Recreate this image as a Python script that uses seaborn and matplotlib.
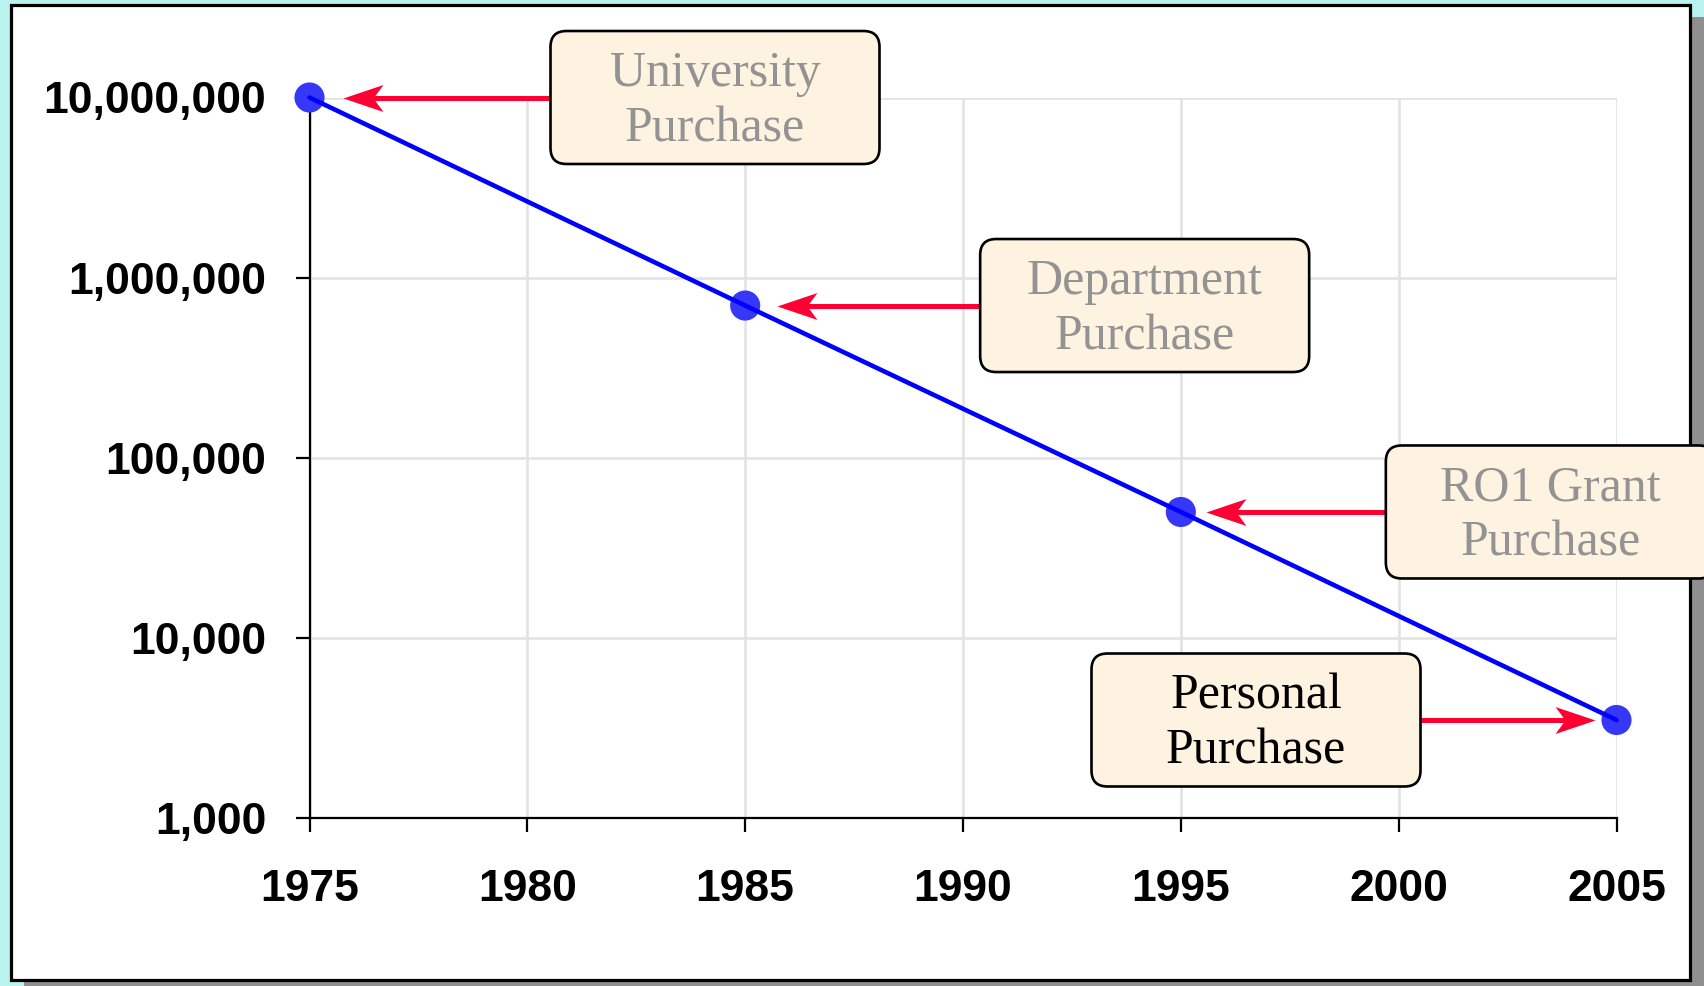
import matplotlib
matplotlib.use("Agg")
import matplotlib.pyplot as plt
import seaborn as sns
import numpy as np
import pandas as pd
from matplotlib.patches import FancyBboxPatch, Rectangle
from matplotlib.path import Path
from matplotlib.lines import Line2D
from matplotlib.transforms import IdentityTransform
from matplotlib.ticker import FixedLocator, FuncFormatter, NullLocator

# ---------------- data ----------------
years = [1975, 1985, 1995, 2005]
cost = [10_000_000, 700_000, 50_000, 3_500]
labels = ["University\nPurchase", "Department\nPurchase", "RO1 Grant\nPurchase", "Personal\nPurchase"]
x_ticks = [1975, 1980, 1985, 1990, 1995, 2000, 2005]
y_ticks = [1_000, 10_000, 100_000, 1_000_000, 10_000_000]

# ---------------- layout / style ----------------
label_colors = ["#939393", "#939393", "#939393", "#000000"]
box_edge_offset = [241, 235, 205, -196]   # px from marker to near box edge
arrow_gap = [33, 32, 25, 22]              # px from marker centre to arrow tip
box_w, box_h = 329, 133
W, H, DPI = 1704, 986, 100

sns.set_style("white")
plt.rcParams["font.family"] = ["Liberation Sans", "DejaVu Sans"]

fig = plt.figure(figsize=(W / DPI, H / DPI), dpi=DPI, facecolor="#B8F3EF")

# frame and shadow (pixel coordinates, origin bottom-left)
shadow = Rectangle((24, -10), W, H - 17 + 10, transform=IdentityTransform(),
                   facecolor="#8F8F8F", edgecolor="none", zorder=-6)
frame = Rectangle((11, H - 979.5), 1690 - 11, 979.5 - 5, transform=IdentityTransform(),
                  facecolor="white", edgecolor="black", linewidth=2.3, zorder=-5)
fig.add_artist(shadow)
fig.add_artist(frame)

ax_l, ax_r, ax_t, ax_b = 309.5, 1616.5, 97.5, 818
ax = fig.add_axes([ax_l / W, 1 - ax_b / H, (ax_r - ax_l) / W, (ax_b - ax_t) / H])
ax.set_facecolor("white")

df = pd.DataFrame({"year": years, "cost": cost})
sns.scatterplot(data=df, x="year", y="cost", ax=ax, s=470, color="#3737F7",
                edgecolor="none", zorder=3, clip_on=False, legend=False)
sns.lineplot(data=df, x="year", y="cost", ax=ax, color="#0000FF", linewidth=3.3,
             zorder=4, clip_on=False)

ax.set_yscale("log")
ax.set_xlim(1975, 2005)
ax.set_ylim(1_000, 10_000_000)
ax.xaxis.set_major_locator(FixedLocator(x_ticks))
ax.yaxis.set_major_locator(FixedLocator(y_ticks))
ax.yaxis.set_minor_locator(NullLocator())
ax.yaxis.set_major_formatter(FuncFormatter(lambda v, p: f"{int(round(v)):,}"))
ax.set_xlabel("")
ax.set_ylabel("")

ax.grid(True, color="#E3E3E3", linewidth=1.9, zorder=0)
ax.set_axisbelow(True)
for s in ["top", "right"]:
    ax.spines[s].set_visible(False)
for s in ["left", "bottom"]:
    ax.spines[s].set_color("black")
    ax.spines[s].set_linewidth(1.6)
ax.tick_params(axis="both", which="major", direction="out", length=10, width=1.6,
               color="black", labelcolor="black", labelsize=32, left=True, bottom=True)
ax.tick_params(axis="y", pad=21)
ax.tick_params(axis="x", pad=27)
for lab in ax.get_xticklabels() + ax.get_yticklabels():
    lab.set_fontweight("bold")
    lab.set_family(["Liberation Sans", "DejaVu Sans"])

# ---------------- annotations ----------------
red = "#FF0033"
head_len, notch, half_w = 40, 30, 13.5
left_head = Path([(-head_len / 2, 0), (head_len / 2, half_w), (head_len / 2 - (head_len - notch), 0),
                  (head_len / 2, -half_w), (-head_len / 2, 0)],
                 [Path.MOVETO, Path.LINETO, Path.LINETO, Path.LINETO, Path.CLOSEPOLY])
right_head = Path(left_head.vertices * np.array([-1, 1]), left_head.codes)

for yr, val, text, col, off, gap in zip(years, cost, labels, label_colors, box_edge_offset, arrow_gap):
    px, py = ax.transData.transform((yr, val))
    sign = 1 if off > 0 else -1
    edge_x = px + off
    cx = edge_x + sign * box_w / 2
    box = FancyBboxPatch((cx - box_w / 2, py - box_h / 2), box_w, box_h,
                         boxstyle="round,pad=0,rounding_size=16", transform=IdentityTransform(),
                         facecolor="#FEF2E0", edgecolor="black", linewidth=1.9, zorder=6)
    fig.add_artist(box)
    fig.text(cx, py - 4, text, transform=IdentityTransform(), ha="center", va="center",
             fontsize=36, family=["Liberation Serif", "DejaVu Serif"], color=col,
             linespacing=1.23, zorder=7)
    tip_x = px + sign * gap
    notch_x = tip_x + sign * notch
    shaft = Line2D([notch_x - sign * 2, edge_x], [py, py], transform=IdentityTransform(),
                   color=red, linewidth=3.6, solid_capstyle="butt", zorder=5)
    fig.add_artist(shaft)
    head_cx = tip_x + sign * head_len / 2
    head = Line2D([head_cx], [py], transform=IdentityTransform(), linestyle="none",
                  marker=left_head if sign > 0 else right_head, markersize=head_len * 72 / DPI,
                  markerfacecolor=red, markeredgecolor="none", zorder=5)
    fig.add_artist(head)

fig.savefig("out.png", dpi=DPI)
